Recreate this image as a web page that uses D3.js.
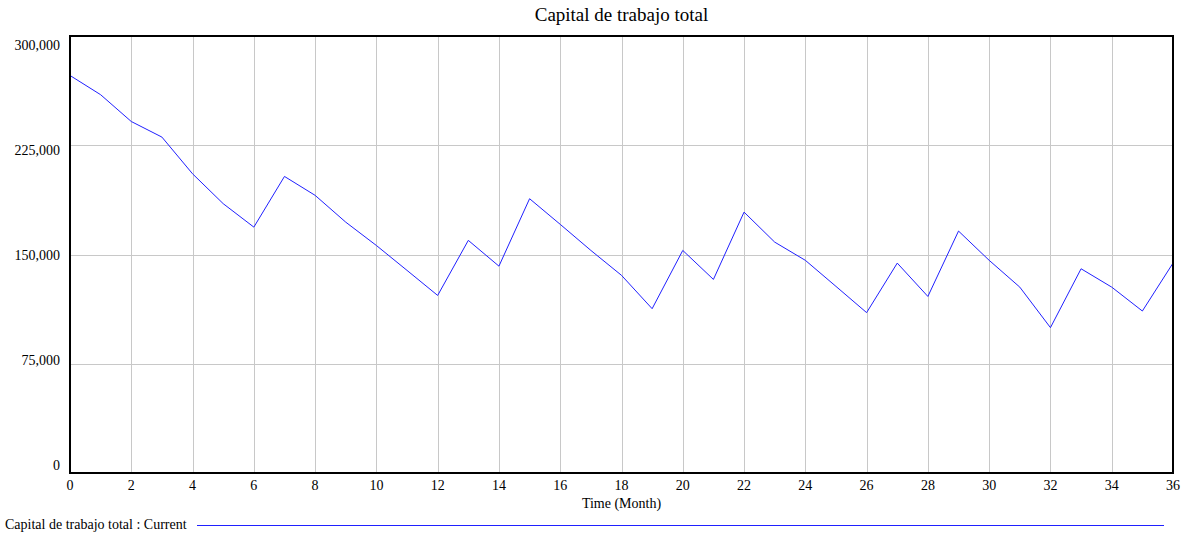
<!DOCTYPE html>
<html>
<head>
<meta charset="utf-8">
<script src="https://cdn.jsdelivr.net/npm/d3@7"></script>
<style>
  html, body { margin: 0; padding: 0; background: #fff; }
  svg { display: block; }
  text { font-family: "Liberation Serif", "Times New Roman", serif; fill: #000; }
</style>
</head>
<body>
<script>
const title = "Capital de trabajo total";
const xLabel = "Time (Month)";
const legendLabel = "Capital de trabajo total : Current";
const months = d3.range(0, 37);
const capital = [
  272900, 259700, 241300, 230600, 205400, 184900, 168800, 203600, 190600, 172200,
  156200, 139100, 121900, 159700, 142000, 188300, 170700, 152800, 135700, 112800,
  152800, 132900, 179100, 158500, 146000, 128100, 110100, 144100, 121200, 166100,
  146000, 127600, 99800, 140200, 127600, 111200, 144100
];
const xTicks = d3.range(0, 37, 2);
const yTicks = [0, 75000, 150000, 225000, 300000];

const W = 1188, H = 536;
const mLeft = 70, mRight = 1173, mTop = 36, mBottom = 473;

const svg = d3.select("body").append("svg").attr("width", W).attr("height", H);

const x = d3.scaleLinear().domain([0, 36]).range([mLeft, mRight]);
const y = d3.scaleLinear().domain([0, 300000]).range([mBottom, mTop]);
const yLab = d3.scaleLinear().domain([0, 300000]).range([465, 45]);
const fmt = d3.format(",");

// grid
svg.append("g").selectAll("line").data(xTicks).join("line")
  .attr("x1", d => Math.round(x(d)) + 0.5).attr("x2", d => Math.round(x(d)) + 0.5)
  .attr("y1", mTop).attr("y2", mBottom)
  .attr("stroke", "#c8c8c8").attr("stroke-width", 1);
svg.append("g").selectAll("line").data(yTicks).join("line")
  .attr("x1", mLeft).attr("x2", mRight)
  .attr("y1", d => Math.round(y(d)) + 0.5).attr("y2", d => Math.round(y(d)) + 0.5)
  .attr("stroke", "#c8c8c8").attr("stroke-width", 1);

// line
const line = d3.line().x((d, i) => x(months[i])).y(d => y(d));
svg.append("path").datum(capital)
  .attr("d", line).attr("fill", "none")
  .attr("stroke", "#2020ff").attr("stroke-width", 1);

// frame
svg.append("rect").attr("x", mLeft).attr("y", mTop)
  .attr("width", mRight - mLeft).attr("height", mBottom - mTop)
  .attr("fill", "none").attr("stroke", "#000").attr("stroke-width", 2);

// y labels
svg.append("g").selectAll("text").data(yTicks).join("text")
  .attr("x", 60).attr("y", d => yLab(d))
  .attr("dy", "0.35em")
  .attr("text-anchor", "end").attr("font-size", 14)
  .text(d => fmt(d));

// x labels
svg.append("g").selectAll("text").data(xTicks).join("text")
  .attr("x", d => x(d)).attr("y", 490)
  .attr("text-anchor", "middle").attr("font-size", 14)
  .text(d => d);

svg.append("text").attr("x", (mLeft + mRight) / 2).attr("y", 508)
  .attr("text-anchor", "middle").attr("font-size", 14).text(xLabel);

svg.append("text").attr("x", (mLeft + mRight) / 2).attr("y", 21)
  .attr("text-anchor", "middle").attr("font-size", 19).text(title);

// legend
svg.append("text").attr("x", 5).attr("y", 529)
  .attr("font-size", 14).text(legendLabel);
svg.append("line").attr("x1", 197).attr("x2", 1164)
  .attr("y1", 525.5).attr("y2", 525.5)
  .attr("stroke", "#2020ff").attr("stroke-width", 1);
</script>
</body>
</html>
